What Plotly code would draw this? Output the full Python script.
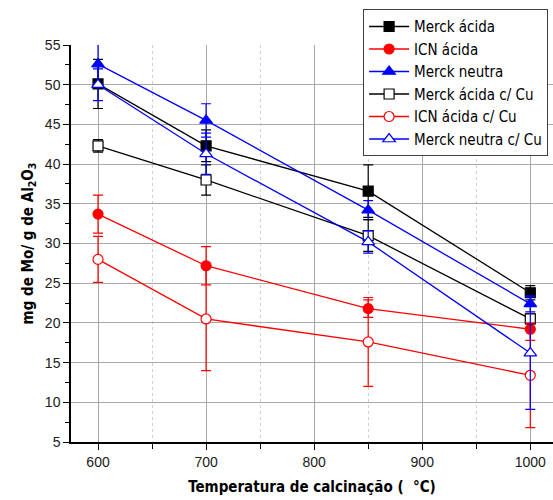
import plotly.graph_objects as go

temps = [600, 700, 850, 1000]

merck_acida = [50.1, 42.3, 36.6, 23.8]
merck_acida_err = [3.1, 2.0, 3.3, 0.9]
icn_acida = [33.7, 27.2, 21.8, 19.2]
icn_acida_err = [2.4, 2.4, 1.1, 1.4]
merck_neutra = [52.6, 45.5, 34.2, 22.4]
merck_neutra_err = [2.5, 2.1, 1.2, 1.0]
merck_acida_cu = [42.3, 38.0, 31.0, 20.5]
merck_acida_cu_err = [0.8, 1.9, 2.0, 0.6]
icn_acida_cu = [28.0, 20.5, 17.6, 13.4]
icn_acida_cu_err = [2.9, 6.5, 5.6, 6.6]
merck_neutra_cu = [50.0, 41.3, 30.2, 16.2]
merck_neutra_cu_err = [2.0, 2.6, 1.4, 7.1]

names = ["Merck ácida", "ICN ácida", "Merck neutra",
         "Merck ácida c/ Cu", "ICN ácida c/ Cu", "Merck neutra c/ Cu"]

series = [
    (names[0], merck_acida, merck_acida_err, "#000000", "square", True),
    (names[1], icn_acida, icn_acida_err, "#ff0000", "circle", True),
    (names[2], merck_neutra, merck_neutra_err, "#0000ff", "triangle-up", True),
    (names[3], merck_acida_cu, merck_acida_cu_err, "#000000", "square", False),
    (names[4], icn_acida_cu, icn_acida_cu_err, "#ff0000", "circle", False),
    (names[5], merck_neutra_cu, merck_neutra_cu_err, "#0000ff", "triangle-up", False),
]

fig = go.Figure()
for name, vals, err, color, sym, filled in series:
    fig.add_trace(go.Scatter(
        x=temps, y=vals, name=name, mode="lines+markers",
        line=dict(color=color, width=1.3),
        marker=dict(symbol=sym, size=11 if sym == "triangle-up" else 10,
                    color=color if filled else "white",
                    line=dict(color=color, width=1.2)),
        error_y=dict(type="data", array=err, visible=True, color=color,
                     thickness=1.2, width=5),
    ))

base_font = "Liberation Sans, Arial, sans-serif"
cond_font = "DejaVu Sans Condensed, Liberation Sans, Arial, sans-serif"

fig.update_layout(
    width=553, height=500,
    margin=dict(l=71, r=0, t=45, b=58, autoexpand=False),
    paper_bgcolor="white", plot_bgcolor="white",
    font=dict(family=base_font, color="#000000", size=14),
    showlegend=True,
    legend=dict(
        x=0.606, y=1.09, xanchor="left", yanchor="top",
        bgcolor="white", bordercolor="#404040", borderwidth=1,
        font=dict(size=15, family=cond_font),
        itemwidth=40, tracegroupgap=0,
    ),
    xaxis=dict(
        range=[575, 1021], tickvals=[600, 700, 800, 900, 1000],
        showgrid=True, gridcolor="#a8a8a8", gridwidth=1,
        showline=True, linecolor="black", linewidth=1.5,
        ticks="outside", ticklen=6, tickcolor="black",
        minor=dict(dtick=50, tick0=650, showgrid=True, gridcolor="#d0d0d0",
                   griddash="dot", ticks="outside", ticklen=5, tickcolor="black"),
        zeroline=False,
        title=dict(text="Temperatura de calcinação (  °C)",
                   font=dict(size=15, family=cond_font, weight="bold"), standoff=13),
        tickfont=dict(size=14, color="#202020"),
    ),
    yaxis=dict(
        range=[5, 55], tickvals=[5, 10, 15, 20, 25, 30, 35, 40, 45, 50, 55],
        showgrid=True, gridcolor="#a8a8a8", gridwidth=1,
        showline=True, linecolor="black", linewidth=1.5,
        ticks="outside", ticklen=6, tickcolor="black",
        minor=dict(dtick=2.5, ticks="outside", ticklen=4, tickcolor="black", showgrid=False),
        zeroline=False,
        title=dict(text="mg de Mo/ g de Al<sub>2</sub>O<sub>3</sub>",
                   font=dict(size=15, family=cond_font, weight="bold"), standoff=8),
        tickfont=dict(size=14, color="#202020"),
    ),
)

fig.write_html("out.html", config={"displayModeBar": False},
               post_script="document.body.style.margin='0';")
